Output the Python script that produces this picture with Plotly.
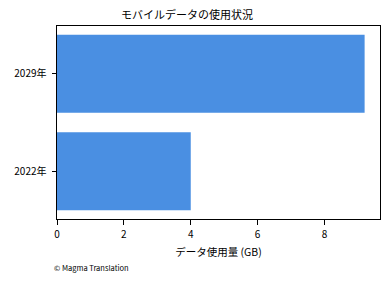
import plotly.graph_objects as go

categories = ["2022年", "2029年"]
values = [4.0, 9.2]
x_ticks = [0, 2, 4, 6, 8]

title = "モバイルデータの使用状況"
x_title = "データ使用量 (GB)"
footnote = "© Magma Translation"

font_family = "Noto Sans CJK JP, DejaVu Sans, sans-serif"

fig = go.Figure()
fig.add_trace(go.Bar(
    y=[0, 1], x=values, orientation="h",
    marker=dict(color="#4A8FE2", line=dict(width=0)),
    width=0.8,
))

plot_h = 281 - 26 - 62
plot_w = 390 - 57 - 10

fig.update_layout(
    width=390, height=281,
    margin=dict(l=57, r=10, t=26, b=62),
    paper_bgcolor="white", plot_bgcolor="white",
    showlegend=False,
    font=dict(family=font_family, color="black", size=10),
    title=dict(text=title, x=187/390, xref="container", xanchor="center",
               y=1 - 15/281, yref="container", yanchor="middle",
               font=dict(size=11, family=font_family)),
    xaxis=dict(
        range=[0, max(values) * 1.05], tickvals=x_ticks,
        ticks="outside", ticklen=4.5, tickwidth=1, tickcolor="black",
        showline=True, linecolor="black", linewidth=1, mirror=True,
        showgrid=False, zeroline=False,
        tickfont=dict(size=10), ticklabelstandoff=1,
        title=dict(text=x_title, font=dict(size=10.5), standoff=9),
    ),
    yaxis=dict(
        range=[-0.49, 1.49], tickvals=[0, 1], ticktext=categories,
        ticks="outside", ticklen=4.5, tickwidth=1, tickcolor="black",
        showline=True, linecolor="black", linewidth=1, mirror=True,
        showgrid=False, zeroline=False,
        tickfont=dict(size=10), ticklabelstandoff=3,
    ),
    annotations=[dict(
        text=footnote, x=(52 - 57) / plot_w, y=(219 - 267) / plot_h,
        xref="paper", yref="paper",
        xanchor="left", yanchor="middle", showarrow=False,
        font=dict(size=7.5, family=font_family),
    )],
)

fig.write_html("out.html")
